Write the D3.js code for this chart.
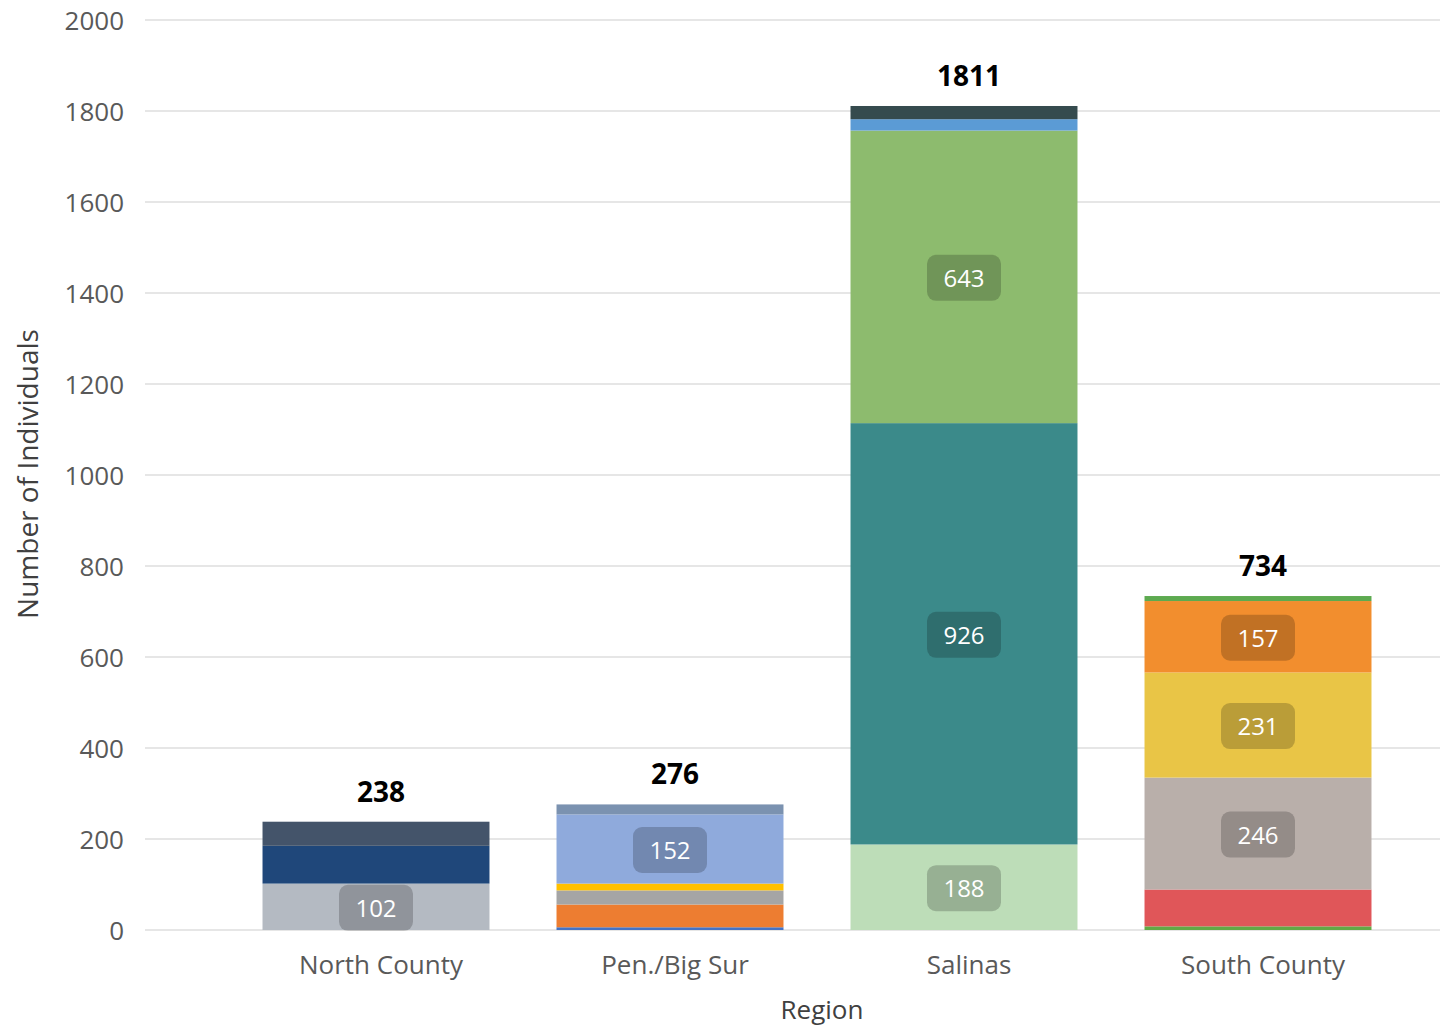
<!DOCTYPE html>
<html>
<head>
<meta charset="utf-8">
<script src="https://cdn.jsdelivr.net/npm/d3@7"></script>
<style>
  html, body { margin: 0; padding: 0; background: #fff; }
  svg { display: block; }
  text { font-family: "Open Sans", sans-serif; }
</style>
</head>
<body>
<svg id="chart" width="1449" height="1028"></svg>
<script>
// ---- data ----
const categories = ["North County", "Pen./Big Sur", "Salinas", "South County"];
const yTicks = [0, 200, 400, 600, 800, 1000, 1200, 1400, 1600, 1800, 2000];
// stacked segment values, bottom to top
const northCounty = [102, 83, 53];
const penBigSur = [6, 50, 31, 15, 152, 22];
const salinas = [188, 926, 643, 25, 29];
const southCounty = [8, 81, 246, 231, 157, 11];
// which segments carry a data label
const northLabels = [true, false, false];
const penLabels = [false, false, false, false, true, false];
const salinasLabels = [true, true, true, false, false];
const southLabels = [false, false, true, true, true, false];
// segment colours, bottom to top
const northColors = ["#B4BAC2", "#1F477A", "#44546A"];
const penColors = ["#4472C4", "#ED7D31", "#A5A5A5", "#FFC000", "#8FAADC", "#7B92B0"];
const salinasColors = ["#BDDDB8", "#3B8A8A", "#8DBB6E", "#5B9BD5", "#354B4E"];
const southColors = ["#63A845", "#E05659", "#B9AFAA", "#E9C546", "#F28E2E", "#5DAA50"];

const regionValues = [northCounty, penBigSur, salinas, southCounty];
const regionLabels = [northLabels, penLabels, salinasLabels, southLabels];
const regionColors = [northColors, penColors, salinasColors, southColors];

// ---- layout ----
const svg = d3.select("#chart");
const y = d3.scaleLinear().domain([0, 2000]).range([930, 20]);
const x = d3.scaleBand().domain(categories).range([234, 1410]).paddingInner(0.228).paddingOuter(0.114);
const barShift = -5;

// gridlines
svg.append("g")
  .selectAll("line")
  .data(yTicks)
  .join("line")
  .attr("x1", 145).attr("x2", 1440)
  .attr("y1", d => y(d)).attr("y2", d => y(d))
  .attr("stroke", "#E6E6E6").attr("stroke-width", 2);

// y axis labels
const yAxis = d3.axisLeft(y).tickValues(yTicks).tickFormat(d3.format("d")).tickSize(0).tickPadding(0);
const yg = svg.append("g").attr("transform", "translate(124,0)").call(yAxis);
yg.select(".domain").remove();
yg.selectAll("text")
  .attr("fill", "#595959")
  .style("font-size", "26px")
  .style("font-family", "'Open Sans', sans-serif")
  .attr("dy", "0.35em");

// x axis labels
const xAxis = d3.axisBottom(x).tickSize(0).tickPadding(0);
const xg = svg.append("g").attr("transform", "translate(0,955)").call(xAxis);
xg.select(".domain").remove();
xg.selectAll("text")
  .attr("fill", "#595959")
  .style("font-size", "26px")
  .style("font-family", "'Open Sans', sans-serif")
  .attr("dy", "0.72em");

// bars
regionValues.forEach((vals, ri) => {
  const cat = categories[ri];
  const stack = [];
  let acc = 0;
  vals.forEach((v, i) => { stack.push({ y0: acc, y1: acc + v, v, color: regionColors[ri][i], label: regionLabels[ri][i] }); acc += v; });
  const g = svg.append("g").attr("transform", `translate(${barShift},0)`);
  g.selectAll("rect")
    .data(stack)
    .join("rect")
    .attr("x", x(cat))
    .attr("width", x.bandwidth())
    .attr("y", d => y(d.y1))
    .attr("height", d => y(d.y0) - y(d.y1))
    .attr("fill", d => d.color);

  const lab = g.selectAll("g.lab")
    .data(stack.filter(d => d.label))
    .join("g")
    .attr("class", "lab")
    .attr("transform", d => `translate(${x(cat) + x.bandwidth() / 2},${(y(d.y0) + y(d.y1)) / 2 + 1})`);
  lab.append("rect")
    .attr("x", -37).attr("y", -23).attr("width", 74).attr("height", 46)
    .attr("rx", 9).attr("fill", "rgba(0,0,0,0.2)");
  lab.append("text")
    .attr("text-anchor", "middle")
    .attr("dy", "0.38em")
    .attr("fill", "#fff")
    .style("font-size", "24px")
    .text(d => d.v);

  // total label
  svg.append("text")
    .attr("x", x(cat) + x.bandwidth() / 2)
    .attr("y", y(acc) - 20)
    .attr("text-anchor", "middle")
    .attr("fill", "#000")
    .style("font-size", "28px")
    .style("font-weight", "bold")
    .text(d3.sum(vals));
});

// axis titles
svg.append("text")
  .attr("transform", "translate(38,474) rotate(-90)")
  .attr("text-anchor", "middle")
  .attr("fill", "#404040")
  .style("font-size", "28px")
  .text("Number of Individuals");

svg.append("text")
  .attr("x", 822).attr("y", 1019)
  .attr("text-anchor", "middle")
  .attr("fill", "#404040")
  .style("font-size", "26px")
  .text("Region");
</script>
</body>
</html>
